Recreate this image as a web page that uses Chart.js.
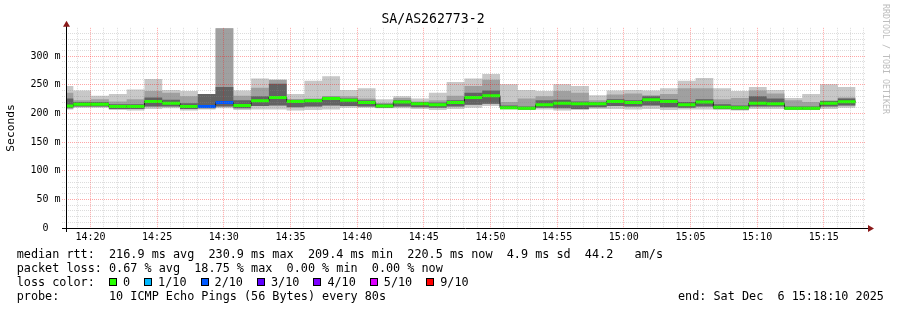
<!DOCTYPE html>
<html>
<head>
<meta charset="utf-8">
<script src="https://cdn.jsdelivr.net/npm/chart.js@4.4.0/dist/chart.umd.min.js"></script>
<style>
  html, body { margin: 0; padding: 0; background: #fff; }
  #wrap { position: relative; width: 897px; height: 310px; overflow: hidden; }
  #smoke { position: absolute; left: 0; top: 0; }
  .ln { position: absolute; font-family: 'DejaVu Sans Mono', monospace; font-size: 11.8px; line-height: 14px; white-space: pre; color: #000; }
  .box { display: inline-block; width: 6px; height: 6px; border: 1px solid #000; margin-right: 6px; vertical-align: -0px; }
  .item { margin-right: 14px; }
  #mark { position: absolute; left: 881px; top: 4px; writing-mode: vertical-rl; font-family: 'DejaVu Sans Mono', monospace; font-size: 8.3px; line-height: 10px; color: #bdbdbd; white-space: pre; }
</style>
</head>
<body>
<div id="wrap">
  <canvas id="smoke" width="897" height="310"></canvas>
  <div class="ln" style="left:16.7px; top:247.3px">median rtt:  216.9 ms avg  230.9 ms max  209.4 ms min  220.5 ms now  4.9 ms sd  44.2   am/s</div>
  <div class="ln" style="left:16.7px; top:261px">packet loss: 0.67 % avg  18.75 % max  0.00 % min  0.00 % now</div>
  <div class="ln" style="left:16.7px; top:275px">loss color:</div>
  <div class="ln" id="lossLegend" style="left:109px; top:275px"></div>
  <div class="ln" style="left:16.7px; top:289px">probe:       10 ICMP Echo Pings (56 Bytes) every 80s</div>
  <div class="ln" style="left:678px; top:289px">end: Sat Dec  6 15:18:10 2025</div>
  <div id="mark">RRDTOOL / TOBI OETIKER</div>
</div>
<script>
// Thời gian: giây tính từ 14:18:10 (mép trái biểu đồ)
const startClock = 14 * 3600 + 18 * 60 + 10;
const probeStep = 80;
const firstFull = 33;

// Giá trị ping (ms) cho từng khoảng 80s
const maxRtt = [248,240,231,234,242,260,241,239,234,349,240,261,259,234,257,265,241,244,225,230,226,236,255,261,269,251,241,239,251,248,232,240,241,240,244,257,262,244,239,246,241,227,234,251,246];
const hiRtt = [236,223,225,221,225,239,236,230,234,349,231,245,259,225,226,230,230,226,218,227,221,223,231,248,259,220,226,230,239,236,223,233,235,232,234,244,244,225,227,240,235,223,220,221,228];
const midRtt = [226,220,220,216,216,228,224,218,234,246,223,230,252,224,225,229,226,223,217,223,220,219,223,236,240,214,212,223,224,221,220,225,223,230,225,220,225,216,214,230,226,212,212,222,226];
const medianRtt = [213,216,216,212,212,221,218,212,212,219,214,222,228,221,222,226,223,219,213,220,217,215,219,228,231,210,209,215,218,217,217,221,219,224,221,215,220,211,210,218,217,209,209,218,220.5];
const loRtt = [209,212,212,208,208,212,212,208,209,212,209,213,214,211,212,214,213,212,210,212,211,210,212,215,217,208,207,210,209,208,211,213,212,214,211,210,212,208,207,212,212,207,207,212,214];
const minRtt = [207,210,210,206,205,208,209,205,207,209,206,207,207,205,206,207,210,210,209,209,208,206,208,210,213,207,207,207,205,206,208,208,207,208,206,207,207,206,205,208,208,206,206,208,210];
// Số gói mất (trên 10) mỗi khoảng
const lossPerBin = [0,0,0,0,0,0,0,0,2,2,0,0,0,0,0,0,0,0,0,0,0,0,0,0,0,0,0,0,0,0,0,0,0,0,0,0,0,0,0,0,0,0,0,0,0];

const lossLabels = ['0', '1/10', '2/10', '3/10', '4/10', '5/10', '9/10'];
const lossCounts = [0, 1, 2, 3, 4, 5, 9];
const lossColors = ['#26ff00', '#00b8ff', '#0059ff', '#5e00ff', '#7e00ff', '#dd00ff', '#ff0000'];

// Thời điểm bắt đầu mỗi khoảng
const binTimes = [0];
for (let i = 0; i < medianRtt.length - 1; i++) binTimes.push(firstFull + i * probeStep);
const endTime = firstFull + (medianRtt.length - 1) * probeStep;

function toPoints(arr) {
    const pts = arr.map((v, i) => ({ x: binTimes[i], y: v }));
    pts.push({ x: endTime, y: arr[arr.length - 1] });
    return pts;
}

// Đoạn ngang riêng cho từng khoảng (không có nét dọc)
function toPieces(arr) {
    const pts = [];
    arr.forEach((v, i) => {
        const x1 = i + 1 < binTimes.length ? binTimes[i + 1] : endTime;
        pts.push({ x: binTimes[i], y: v }, { x: x1, y: v }, { x: x1, y: null });
    });
    return pts;
}

function lossColor(n) {
    const idx = lossCounts.indexOf(n);
    return idx >= 0 ? lossColors[idx] : lossColors[0];
}

// Chú thích màu mất gói
const legendDiv = document.getElementById('lossLegend');
legendDiv.innerHTML = lossLabels.map((l, i) =>
    `<span class="item"><span class="box" style="background:${lossColors[i]}"></span>${l}</span>`).join('');

function clockOf(v) {
    const t = startClock + v;
    return { h: Math.floor(t / 3600), m: Math.floor((t % 3600) / 60) };
}

const smokeBase = { pointRadius: 0, borderWidth: 0, stepped: true, fill: false };

const axisArrows = {
    id: 'axisArrows',
    afterDraw(chart) {
        const { ctx, chartArea: a } = chart;
        ctx.save();
        ctx.strokeStyle = '#000';
        ctx.lineWidth = 1;
        ctx.beginPath();
        ctx.moveTo(a.left - 4, Math.round(a.bottom) + 0.5);
        ctx.lineTo(a.right + 3, Math.round(a.bottom) + 0.5);
        ctx.moveTo(a.left + 0.5, a.bottom + 4);
        ctx.lineTo(a.left + 0.5, a.top - 2);
        ctx.stroke();
        ctx.fillStyle = '#8b1a1a';
        ctx.beginPath();
        ctx.moveTo(a.right + 2, a.bottom - 3);
        ctx.lineTo(a.right + 8, a.bottom + 0.5);
        ctx.lineTo(a.right + 2, a.bottom + 4);
        ctx.fill();
        ctx.beginPath();
        ctx.moveTo(a.left - 3, a.top - 1);
        ctx.lineTo(a.left + 0.5, a.top - 7);
        ctx.lineTo(a.left + 4, a.top - 1);
        ctx.fill();
        ctx.restore();
    }
};

Chart.defaults.font.family = "'DejaVu Sans Mono', monospace";
Chart.defaults.color = '#000';

const config = {
    type: 'line',
    data: {
        datasets: [
            {
                label: 'median rtt',
                data: toPieces(medianRtt),
                pointRadius: 0,
                borderWidth: 3,
                borderCapStyle: 'butt',
                borderColor: lossColors[0],
                segment: {
                    borderColor: c => lossColor(lossPerBin[Math.floor(c.p0DataIndex / 3)])
                },
                spanGaps: false,
                fill: false,
                order: 0
            },
            {
                label: 'median step',
                data: toPoints(medianRtt),
                stepped: true,
                pointRadius: 0,
                borderWidth: 1,
                borderColor: 'rgba(20,20,20,0.9)',
                fill: false,
                order: 0
            },
            { ...smokeBase, label: 'lo', data: toPoints(loRtt), order: 1 },
            { ...smokeBase, label: 'mid', data: toPoints(midRtt), fill: 2, backgroundColor: 'rgb(98,98,98)', order: 1 },
            { ...smokeBase, label: 'hi', data: toPoints(hiRtt), fill: 2, backgroundColor: 'rgb(160,160,160)', order: 2 },
            { ...smokeBase, label: 'min', data: toPoints(minRtt), order: 3 },
            { ...smokeBase, label: 'max', data: toPoints(maxRtt), fill: 5, backgroundColor: 'rgb(200,200,200)', order: 3 }
        ]
    },
    options: {
        responsive: false,
        animation: false,
        events: [],
        layout: { padding: { left: 0, right: 31, top: 0, bottom: 0 } },
        plugins: {
            legend: { display: false },
            tooltip: { enabled: false },
            title: {
                display: true,
                text: 'SA/AS262773-2',
                color: '#000',
                font: { size: 13.2, weight: 'normal' },
                padding: { top: 12, bottom: 0 }
            }
        },
        scales: {
            x: {
                type: 'linear',
                min: 0,
                max: 3600,
                afterBuildTicks: s => {
                    const t = [];
                    for (let v = 50; v <= 3590; v += 60) t.push({ value: v });
                    s.ticks = t;
                },
                afterFit: s => { s.height = 82; },
                ticks: {
                    autoSkip: false,
                    maxRotation: 0,
                    padding: 3,
                    font: { size: 10 },
                    color: '#000',
                    callback: v => {
                        const c = clockOf(v);
                        return c.m % 5 === 0 ? `${c.h}:${String(c.m).padStart(2, '0')}` : '';
                    }
                },
                grid: {
                    z: 1,
                    drawTicks: false,
                    color: c => (c.tick && clockOf(c.tick.value).m % 5 === 0) ? 'rgba(255,0,0,0.35)' : 'rgba(140,140,140,0.3)'
                },
                border: { display: false, dash: [1, 1] }
            },
            y: {
                min: 0,
                max: 349.5,
                afterBuildTicks: s => {
                    const t = [];
                    for (let v = 0; v <= 340; v += 10) t.push({ value: v });
                    s.ticks = t;
                },
                afterFit: s => { s.width = 66; },
                ticks: {
                    autoSkip: false,
                    padding: 1.5,
                    font: { size: 10 },
                    color: '#000',
                    callback: v => v % 50 === 0 ? (v === 0 ? '0  ' : v + ' m') : ''
                },
                title: {
                    display: true,
                    text: 'Seconds',
                    color: '#000',
                    font: { size: 11.3 },
                    padding: { top: 4, bottom: 0 }
                },
                grid: {
                    z: 1,
                    tickLength: 4,
                    tickBorderDash: [1, 1],
                    color: c => (c.tick && c.tick.value % 50 === 0) ? 'rgba(255,0,0,0.35)' : 'rgba(140,140,140,0.3)'
                },
                border: { display: false, dash: [1, 1] }
            }
        }
    },
    plugins: [axisArrows]
};

const smokeChart = new Chart(document.getElementById('smoke'), config);
</script>
</body>
</html>
